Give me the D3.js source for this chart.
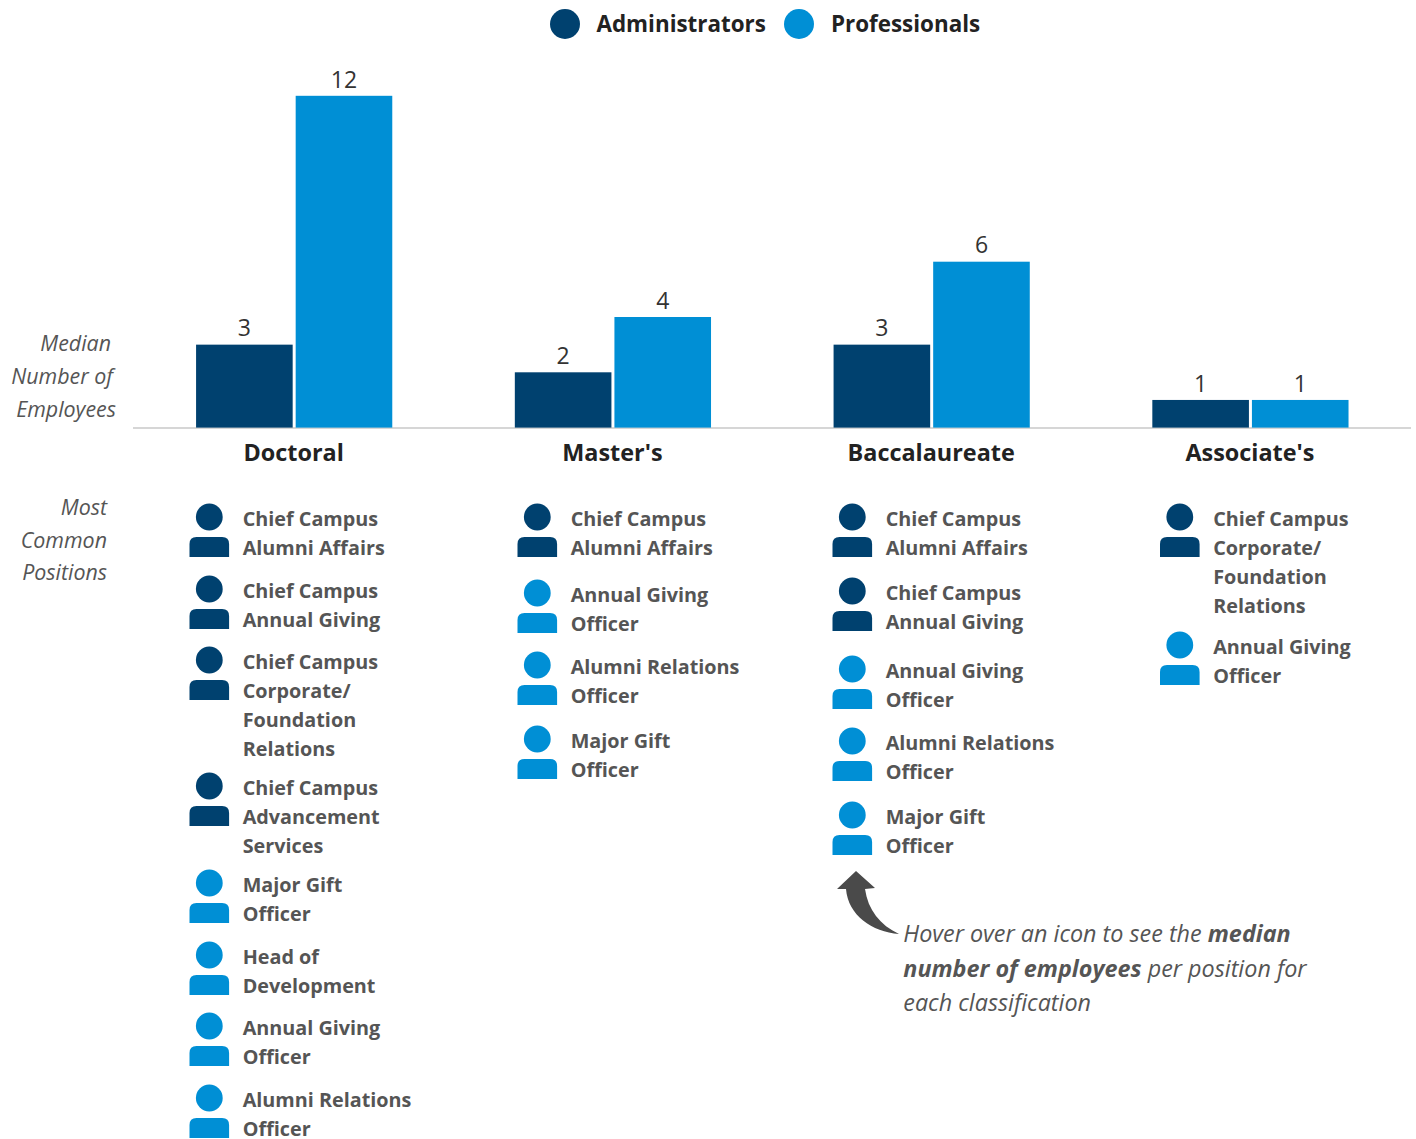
<!DOCTYPE html>
<html><head><meta charset="utf-8">
<script src="https://cdnjs.cloudflare.com/ajax/libs/d3/7.8.5/d3.min.js"></script>
<style>html,body{margin:0;padding:0;background:#fff}svg{display:block}text{font-family:"Open Sans",sans-serif}</style>
</head><body><svg id="c" width="1416" height="1139"></svg>
<script>
const categories=["Doctoral","Master's","Baccalaureate","Associate's"];
const seriesNames=["Administrators","Professionals"];
const administrators=[3,2,3,1];
const professionals=[12,4,6,1];
const colors=["#00416f","#008fd5"];
const positions=[
 [[0,["Chief Campus","Alumni Affairs"]],[0,["Chief Campus","Annual Giving"]],[0,["Chief Campus","Corporate/","Foundation","Relations"]],[0,["Chief Campus","Advancement","Services"]],[1,["Major Gift","Officer"]],[1,["Head of","Development"]],[1,["Annual Giving","Officer"]],[1,["Alumni Relations","Officer"]]],
 [[0,["Chief Campus","Alumni Affairs"]],[1,["Annual Giving","Officer"]],[1,["Alumni Relations","Officer"]],[1,["Major Gift","Officer"]]],
 [[0,["Chief Campus","Alumni Affairs"]],[0,["Chief Campus","Annual Giving"]],[1,["Annual Giving","Officer"]],[1,["Alumni Relations","Officer"]],[1,["Major Gift","Officer"]]],
 [[0,["Chief Campus","Corporate/","Foundation","Relations"]],[1,["Annual Giving","Officer"]]]
];
const posTop=[[518,590,661,787,884,956,1027,1099],[518,594,666,740],[518,592,670,742,816],[518,646]];
const iconX=[209.3,537.3,852.3,1179.8];
const svg=d3.select("#c");
const y=d3.scaleLinear().domain([0,12]).range([427.6,95.8]);
const x0=d3.scaleBand().domain(categories).range([134.8,1409.8]).padding(0);
const barW=96.6,gap=3;
svg.append("line").attr("x1",133).attr("x2",1411).attr("y1",428).attr("y2",428).attr("stroke","#c8c8c8").attr("stroke-width",1.5);
function body(ix,t){
 const p=d3.path(),l=ix-19.8,r=ix+19.8,a=t+19,b=t+39,c=7;
 p.moveTo(l,b);p.lineTo(l,a+c);p.quadraticCurveTo(l,a,l+c,a);p.lineTo(r-c,a);p.quadraticCurveTo(r,a,r,a+c);p.lineTo(r,b);p.closePath();
 return p.toString();
}
categories.forEach((c,i)=>{
 const cx=x0(c)+x0.bandwidth()/2;
 [administrators[i],professionals[i]].forEach((v,s)=>{
  const bx=s===0?cx-barW-gap/2:cx+gap/2;
  svg.append("rect").attr("x",bx).attr("y",y(v)).attr("width",barW).attr("height",y(0)-y(v)).attr("fill",colors[s]);
  svg.append("text").attr("x",bx+barW/2).attr("y",y(v)-8.3).attr("text-anchor","middle").attr("font-size",23).attr("fill","#333").text(v);
 });
 svg.append("text").attr("x",cx-0.5).attr("y",461).attr("text-anchor","middle").attr("font-size",23.4).attr("font-weight",700).attr("fill","#222").text(c);
 positions[i].forEach((p,j)=>{
  const t=posTop[i][j],ix=iconX[i],col=colors[p[0]];
  svg.append("circle").attr("cx",ix).attr("cy",t-1).attr("r",13.4).attr("fill",col);
  svg.append("path").attr("d",body(ix,t)).attr("fill",col);
  p[1].forEach((l,k)=>{
   svg.append("text").attr("x",ix+33.4).attr("y",t+8+k*29).attr("font-size",19.8).attr("font-weight",700).attr("fill","#555").text(l);
  });
 });
});
[["Median",111,351],["Number of",113,384],["Employees",116,417],["Most",107,515],["Common",107,548],["Positions",107,580]].forEach(d=>{
 svg.append("text").attr("x",d[1]).attr("y",d[2]).attr("text-anchor","end").attr("font-size",21.4).attr("font-style","italic").attr("fill","#555").text(d[0]);
});
[[565,596.5],[799,831]].forEach((d,i)=>{
 svg.append("circle").attr("cx",d[0]).attr("cy",24).attr("r",15).attr("fill",colors[i]);
 svg.append("text").attr("x",d[1]).attr("y",32).attr("font-size",22.4).attr("font-weight",700).attr("fill","#222").text(seriesNames[i]);
});
svg.append("path").attr("d","M856 871L875 888L865 889C868 910 880 925 899 934C872 932 848 915 846 889L837 889Z").attr("fill","#4a4a4a");
const note=[[["Hover over an icon to see the ",400],["median",700]],[["number of employees",700],[" per position for",400]],[["each classification",400]]];
note.forEach((ln,i)=>{
 const t=svg.append("text").attr("x",903.3).attr("y",942+i*34.5).attr("font-size",23.35).attr("font-style","italic").attr("fill","#555");
 ln.forEach(s=>t.append("tspan").attr("font-weight",s[1]).text(s[0]));
});
</script></body></html>
